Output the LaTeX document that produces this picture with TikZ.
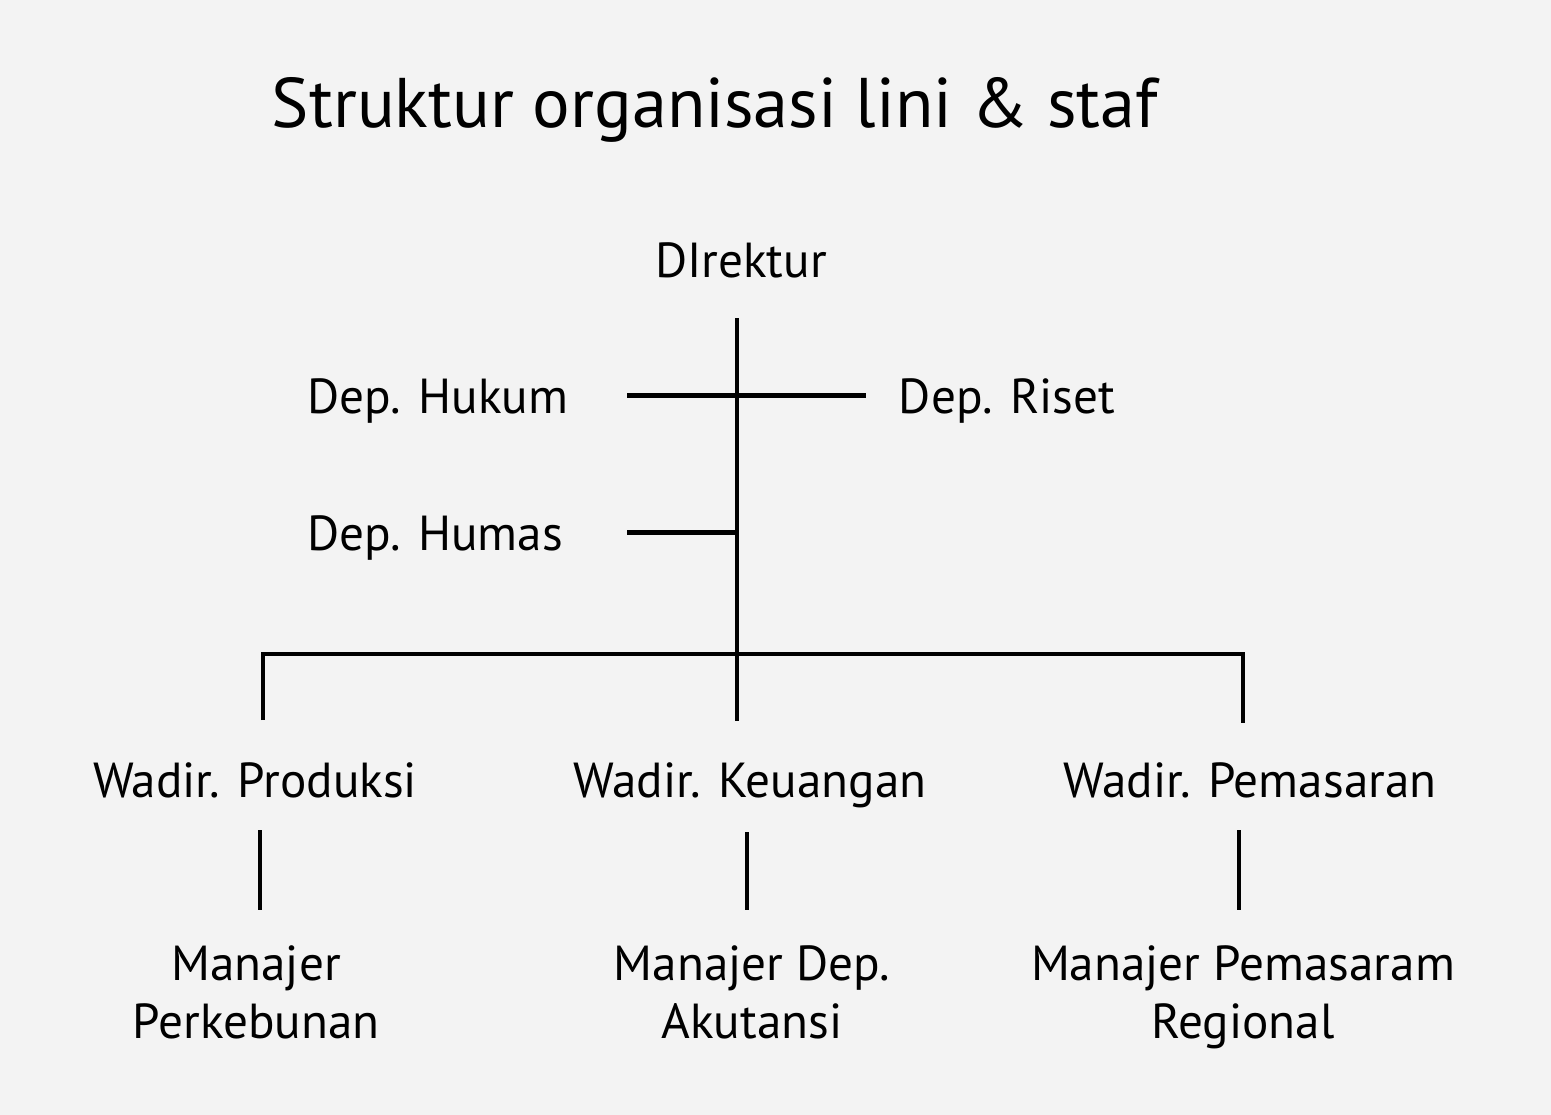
\documentclass[tikz,border=0pt]{standalone}
\usepackage{fontspec}
\setmainfont{PT Sans}
\definecolor{paper}{HTML}{F3F3F3}
\begin{document}
\begin{tikzpicture}[x=0.02cm,y=-0.02cm,
    lbl/.style={inner sep=0pt,anchor=base,font=\fontsize{28}{33}\selectfont,text height=20pt,text depth=0pt},
    mgr/.style={inner sep=0pt,anchor=north,align=center,font=\fontsize{28}{33}\selectfont},
    line/.style={line width=2.5pt}]

                % background
                \fill[paper] (0,0) rectangle (1551,1115);

                % Title
                \node[inner sep=0pt,anchor=base,font=\fontsize{40}{46}\selectfont] (title) at (715,128) {Struktur organisasi lini \& staf};

                % Direktur and staff
                \node[lbl] (dir) at (741,277) {DIrektur};
                \node[lbl] (hukum) at (438,413) {Dep. Hukum};
                \node[lbl] (riset) at (1007,413) {Dep. Riset};
                \node[lbl] (humas) at (435,550) {Dep. Humas};

                % Wakil direktur
                \node[lbl] (wprod) at (255,797) {Wadir. Produksi};
                \node[lbl] (wkeu) at (750,797) {Wadir. Keuangan};
                \node[lbl] (wpem) at (1250,797) {Wadir. Pemasaran};

                % Manajer
                \node[mgr] (mprod) at (256,945) {Manajer\\Perkebunan};
                \node[mgr] (mkeu) at (752,945) {Manajer Dep.\\Akutansi};
                \node[mgr] (mpem) at (1243,945) {Manajer Pemasaram\\Regional};

                % Spine
                \coordinate (top) at (737,318);
                \coordinate (hub) at (737,654);
                \draw[line] (top) -- (hub);
                \draw[line,shorten >=0.82cm] (hub) -- (hub |- wkeu.north);

                % Staff lines
                \draw[line] (hukum.east -| 627,0) -- (riset.west -| 866,0);
                \draw[line] (humas.east -| 627,0) -- (humas.east -| top);

                % Horizontal bar
                \draw[line] (263,720) -- (263,654) -- (1243,654) -- (1243,723);

                % Wadir to Manajer
                \draw[line,shorten <=0.66cm,shorten >=0.7cm] (wprod.south -| 260,0) -- (mprod.north -| 260,0);
                \draw[line,shorten <=0.7cm,shorten >=0.7cm] (wkeu.south -| 747,0) -- (mkeu.north -| 747,0);
                \draw[line,shorten <=0.66cm,shorten >=0.7cm] (wpem.south -| 1239,0) -- (mpem.north -| 1239,0);

\end{tikzpicture}
\end{document}
